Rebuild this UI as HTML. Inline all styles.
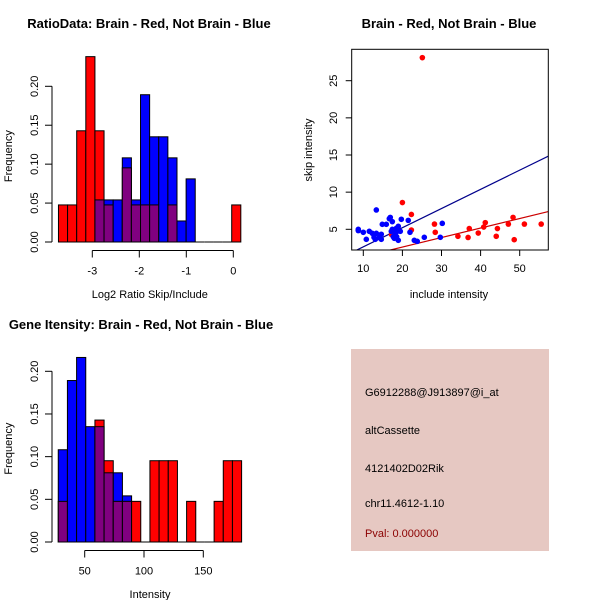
<!DOCTYPE html>
<html><head><meta charset="utf-8">
<style>
html,body{margin:0;padding:0;background:#fff;}
svg{display:block;font-family:"Liberation Sans",Arial,sans-serif;}
</style></head>
<body>
<svg id="chart" width="600" height="600" viewBox="0 0 600 600">
<rect x="0" y="0" width="600" height="600" fill="#fff"/>
<g id="p1"></g>
<g id="p2"></g>
<g id="p3"></g>
<g id="p4">
<rect x="351" y="349" width="198" height="202" fill="#e6c8c2"/>
<text x="365" y="396" font-size="11" fill="#000">G6912288@J913897@i_at</text>
<text x="365" y="434" font-size="11" fill="#000">altCassette</text>
<text x="365" y="472" font-size="11" fill="#000">4121402D02Rik</text>
<text x="365" y="507" font-size="11" fill="#000">chr11.4612-1.10</text>
<text x="365" y="537" font-size="11" fill="#8b0000">Pval: 0.000000</text>
</g>
</svg>
<script>
// ---- Plot 1 data: log2 ratio histogram ----
const ratioStart = -3.72;
const ratioBinWidth = 0.194;
const ratioRed = [1,1,3,5,3,1,0,2,1,1,1,0,1,0,0,0,0,0,0,1].map(v=>v/21);
const ratioBlue = [0,0,0,0,2,2,2,4,2,7,5,5,4,1,3,0,0,0,0,0].map(v=>v/37);
const ratioXTicks = [-3,-2,-1,0];
const freqTicks1 = [0,0.05,0.10,0.15,0.20];
const freqTickLabels1 = ["0.00","0.05","0.10","0.15","0.20"];

// ---- Plot 2 data: scatter ----
const redX = [25.1,20,22.3,22.3,28.2,28.4,34.2,36.8,37.1,39.4,40.8,41.2,44,44.3,47.1,48.3,48.6,51.2,55.5,17.2];
const redY = [28.1,8.6,7.0,4.9,5.7,4.6,4.06,3.9,5.1,4.5,5.3,5.9,4.06,5.1,5.7,6.6,3.6,5.7,5.7,4.3];
const blueX = [8.72,8.72,10.0,10.77,11.53,12.3,12.74,13.33,13.07,13.33,14.1,14.6,14.6,14.86,15.88,16.65,16.9,17.42,17.16,17.42,17.93,18.18,18.44,18.7,18.95,18.95,19.46,19.72,21.5,21.94,23.04,23.8,25.6,29.7,30.2,17.67,18.53];
const blueY = [5.0,4.82,4.6,3.65,4.73,4.46,3.92,7.6,3.65,4.46,3.92,3.65,4.33,5.67,5.67,6.43,6.6,6.03,4.73,5.0,3.79,4.46,5.13,4.73,3.52,5.4,4.73,6.35,6.2,4.6,3.52,3.38,3.92,3.92,5.8,4.0,4.0];
const blueFit = [0.06,0.258];
const redFit = [0.05,0.128];
const scatterXTicks = [10,20,30,40,50];
const scatterYTicks = [5,10,15,20,25];

// ---- Plot 3 data: intensity histogram ----
const intStart = 27.7;
const intBinWidth = 7.73;
const intRed = [1,0,0,0,3,2,1,1,1,0,2,2,2,0,1,0,0,1,2,2].map(v=>v/21);
const intBlue = [4,7,8,5,5,3,3,2,0,0,0,0,0,0,0,0,0,0,0,0].map(v=>v/37);
const intXTicks = [50,100,150];

const NS="http://www.w3.org/2000/svg";
function mk(parent,tag,attrs,text){
  const e=document.createElementNS(NS,tag);
  for(const k in attrs) e.setAttribute(k,attrs[k]);
  if(text!==undefined) e.textContent=text;
  parent.appendChild(e);
  return e;
}

function histogram(g, opts){
  const {x0,px0,pxPerUnit,y0px,pxPerFreq,start,bw,red,blue,xticks,axisY,title,titleX,titleY,xlabel,xlabelY,prefix} = opts;
  const X = v => px0 + (v - x0)*pxPerUnit;
  const Y = f => y0px - f*pxPerFreq;
  const n = red.length;
  for(let i=0;i<n;i++){
    const a=X(start+i*bw), b=X(start+(i+1)*bw);
    const r=red[i], bl=blue[i];
    const hi=Math.max(r,bl), lo=Math.min(r,bl);
    if(hi>0){
      const rect=mk(g,'rect',{x:a,y:Y(hi),width:b-a,height:Y(0)-Y(hi),fill:r>=bl?'#ff0000':'#0000ff',stroke:'#000','stroke-width':1});
      
      
    }
    if(lo>0){
      const rect=mk(g,'rect',{x:a,y:Y(lo),width:b-a,height:Y(0)-Y(lo),fill:'#800080',stroke:'#000','stroke-width':1});
      
      
    }
    if(hi===0){
      const ln=mk(g,'line',{x1:a,y1:Y(0),x2:b,y2:Y(0),stroke:'#000'});
      
      
    }
  }
  const yax=mk(g,'g',{});
  
  
  mk(yax,'line',{x1:52,y1:Y(0),x2:52,y2:Y(0.20),stroke:'#000'});
  freqTicks1.forEach((t,i)=>{
    mk(yax,'line',{x1:45,y1:Y(t),x2:52,y2:Y(t),stroke:'#000'});
    const tx=mk(yax,'text',{x:0,y:0,'font-size':11,'text-anchor':'middle',transform:`translate(38,${Y(t)}) rotate(-90)`},freqTickLabels1[i]);
    
    
  });
  const yl=mk(g,'text',{x:0,y:0,'font-size':11,'text-anchor':'middle',transform:`translate(12,${(Y(0)+Y(0.2))/2-8}) rotate(-90)`},'Frequency');
  
  
  const xax=mk(g,'g',{});
  
  
  mk(xax,'line',{x1:X(xticks[0]),y1:axisY,x2:X(xticks[xticks.length-1]),y2:axisY,stroke:'#000'});
  xticks.forEach(t=>{
    mk(xax,'line',{x1:X(t),y1:axisY,x2:X(t),y2:axisY+7,stroke:'#000'});
    const tx=mk(xax,'text',{x:X(t),y:axisY+24,'font-size':11,'text-anchor':'middle'},String(t));
    
    
  });
  const xl=mk(g,'text',{x:(X(xticks[0])+X(xticks[xticks.length-1]))/2+ (opts.xlabelShift||0),y:xlabelY,'font-size':11,'text-anchor':'middle'},xlabel);
  
  
  const tt=mk(g,'text',{x:titleX,y:titleY,'font-size':13,'font-weight':'bold','text-anchor':'middle'},title);
  
  
}

histogram(document.getElementById('p1'),{
  x0:-3, px0:92.3, pxPerUnit:47, y0px:242, pxPerFreq:778.5,
  start:ratioStart, bw:ratioBinWidth, red:ratioRed, blue:ratioBlue,
  xticks:ratioXTicks, axisY:250.5, title:'RatioData: Brain - Red, Not Brain - Blue',
  titleX:149, titleY:28, xlabel:'Log2 Ratio Skip/Include', xlabelY:298, xlabelShift:-13, prefix:'ratio'
});
histogram(document.getElementById('p3'),{
  x0:50, px0:84.7, pxPerUnit:1.186, y0px:542, pxPerFreq:853.5,
  start:intStart, bw:intBinWidth, red:intRed, blue:intBlue,
  xticks:intXTicks, axisY:550.5, title:'Gene Itensity: Brain - Red, Not Brain - Blue',
  titleX:141, titleY:329, xlabel:'Intensity', xlabelY:598, xlabelShift:6, prefix:'intensity'
});

(function(){
  const g=document.getElementById('p2');
  const L=351.7,R=548.3,T=49.3,B=250;
  const X=v=>363.3+(v-10)*3.91;
  const Y=v=>229.3-(v-5)*7.43;
  const clip=mk(g,'clipPath',{id:'sc'});
  mk(clip,'rect',{x:L,y:T,width:R-L,height:B-T});
  const xmin=(L-363.3)/3.91+10, xmax=(R-363.3)/3.91+10;
  const bl=mk(g,'line',{x1:X(xmin),y1:Y(blueFit[0]+blueFit[1]*xmin),x2:X(xmax),y2:Y(blueFit[0]+blueFit[1]*xmax),stroke:'#00008b','stroke-width':1.2,'clip-path':'url(#sc)'});
  
  
  const rl=mk(g,'line',{x1:X(xmin),y1:Y(redFit[0]+redFit[1]*xmin),x2:X(xmax),y2:Y(redFit[0]+redFit[1]*xmax),stroke:'#cc0000','stroke-width':1.2,'clip-path':'url(#sc)'});
  
  
  redX.forEach((x,i)=>{
    const c=mk(g,'circle',{cx:X(x),cy:Y(redY[i]),r:2.8,fill:'#ff0000','clip-path':'url(#sc)'});
    
    
  });
  blueX.forEach((x,i)=>{
    const c=mk(g,'circle',{cx:X(x),cy:Y(blueY[i]),r:2.8,fill:'#0000ff','clip-path':'url(#sc)'});
    
    
  });
  const box=mk(g,'rect',{x:L,y:T,width:R-L,height:B-T,fill:'none',stroke:'#000'});
  
  
  scatterXTicks.forEach(t=>{
    mk(g,'line',{x1:X(t),y1:B,x2:X(t),y2:B+6,stroke:'#000'});
    const tx=mk(g,'text',{x:X(t),y:B+22,'font-size':11,'text-anchor':'middle'},String(t));
    
    
  });
  scatterYTicks.forEach(t=>{
    mk(g,'line',{x1:L-6,y1:Y(t),x2:L,y2:Y(t),stroke:'#000'});
    const tx=mk(g,'text',{x:0,y:0,'font-size':11,'text-anchor':'middle',transform:`translate(337,${Y(t)}) rotate(-90)`},String(t));
    
    
  });
  const xl=mk(g,'text',{x:449,y:298,'font-size':11,'text-anchor':'middle'},'include intensity');
  
  
  const yl=mk(g,'text',{x:0,y:0,'font-size':11,'text-anchor':'middle',transform:'translate(312,150) rotate(-90)'},'skip intensity');
  
  
  const tt=mk(g,'text',{x:449,y:28,'font-size':13,'font-weight':'bold','text-anchor':'middle'},'Brain - Red, Not Brain - Blue');
  
  
})();
</script>
</body></html>
